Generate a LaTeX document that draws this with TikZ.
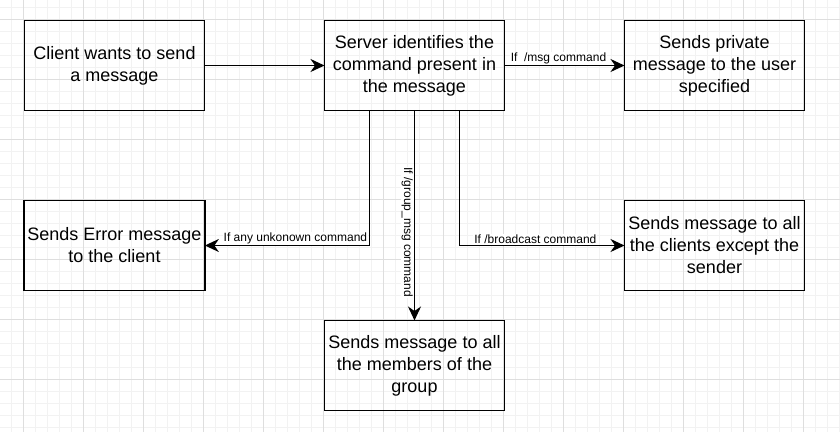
\documentclass[tikz,border=0pt]{standalone}
\usepackage{fontspec}
\setmainfont{Liberation Sans}
\usetikzlibrary{positioning,arrows.meta}

\definecolor{gridmajor}{RGB}{222,222,222}
\definecolor{gridminor}{RGB}{242,242,242}

\tikzset{
  box/.style={draw, line width=1.8pt, minimum width=180pt, minimum height=90pt,
    outer sep=0pt, align=center, font=\fontsize{18}{22}\selectfont},
  arr/.style={-{Stealth[length=14pt,width=13pt,inset=4.5pt]}, line width=1.6pt},
  lbl/.style={font=\fontsize{12}{14}\selectfont, inner sep=1pt, fill=white}
}

\begin{document}
\begin{tikzpicture}[x=1pt,y=-1pt]
  \useasboundingbox (0,0) rectangle (840,432);
  % grid
  \foreach \x in {11,23,...,839}
    \draw[gridminor] (\x,0) -- (\x,432);
  \foreach \y in {7,19,...,431}
    \draw[gridminor] (0,\y) -- (840,\y);
  \foreach \x in {23,83,...,839}
    \draw[gridmajor] (\x,0) -- (\x,432);
  \foreach \y in {19,79,...,431}
    \draw[gridmajor] (0,\y) -- (840,\y);

  % boxes
  \node[box] (client) at (114.5,65.5) {Client wants to send\\a message};
  \node[box, right=120pt of client] (server) {Server identifies the\\command present in\\the message};
  \node[box, right=120pt of server] (private) {Sends private\\message to the user\\specified};
  \node[box, below=90pt of client] (error) {Sends Error message\\to the client};
  \node[box, below=90pt of private] (bcast) {Sends message to all\\the clients except the\\sender};
  \node[box, below=210pt of server] (group) {Sends message to all\\the members of the\\group};

  % connectors
  \draw[arr] (client.east) -- (server.west);
  \draw[arr] (server.east) -- node[lbl, pos=0.45, above]{If\ \ /msg command} (private.west);
  \draw[arr] ([xshift=-45pt]server.south) |- node[lbl, pos=0.725, above]{If any unkonown command} (error.east);
  \draw[arr] (server.south) -- node[lbl, pos=0.58, rotate=-90, anchor=north]{If /group\_msg command} (group.north);
  \draw[arr] ([xshift=45pt]server.south) |- node[lbl, pos=0.73, above]{If /broadcast command} (bcast.west);
\end{tikzpicture}
\end{document}
